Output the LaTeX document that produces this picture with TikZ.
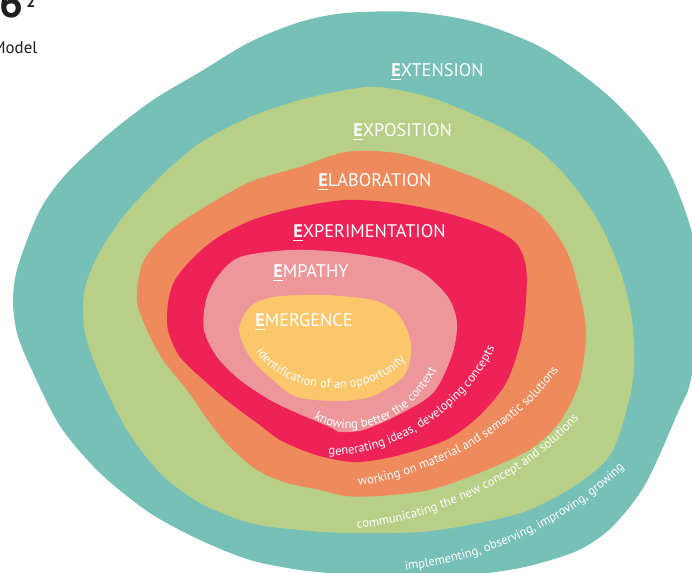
\documentclass[tikz,border=0pt]{standalone}
\usepackage{fontspec}
\setmainfont{PT Sans}
\usetikzlibrary{decorations.text}
\definecolor{cteal}{HTML}{76C0B7}
\definecolor{cgreen}{HTML}{B7CF87}
\definecolor{corange}{HTML}{EE8A5C}
\definecolor{cred}{HTML}{EE2257}
\definecolor{cpink}{HTML}{EE979A}
\definecolor{cyellow}{HTML}{FCC76B}
\definecolor{ctitle}{HTML}{1E1E1E}
\newcommand\lblfont{\fontsize{7.2}{8.5}\selectfont}
\newcommand\firstE[1]{\underline{\textbf{#1}}}
\tikzset{
  blob/.style={fill=#1, draw=none},
  head/.style={text=white, font=\fontsize{10.4}{12}\selectfont, inner sep=0pt, anchor=base west},
  lbl/.style={decorate, decoration={text along path, text align=center, text color=white, text={|\lblfont|#1}}}
}
\begin{document}
\begin{tikzpicture}[x=0.02cm,y=-0.02cm]
\useasboundingbox (0,0) rectangle (692,573);
% title
\node[font=\fontsize{24}{26}\selectfont\bfseries, text=ctitle, inner sep=0pt, anchor=base west] (six) at (-1,18) {6};
\node[font=\fontsize{9}{10}\selectfont\bfseries, text=ctitle, inner sep=0pt, anchor=base west] (two) at (26,8) {2};
\node[font=\fontsize{9.6}{11}\selectfont, text=ctitle, inner sep=0pt, anchor=base west] (model) at (-8,54) {Model};
% blobs
\fill[blob=cteal] plot[smooth cycle, tension=0.5] coordinates {
 (346,13) (413,12) (479,23) (546,50) (613,100) (663,160) (692,233) (702,310) (690,383)
 (679,410) (646,483) (613,526) (579,550) (529,566) (479,574) (420,577) (346,574)
 (300,570) (250,560) (200,540) (150,513) (100,473) (60,426) (30,366) (17,333)
 (13,300) (18,266) (40,210) (67,173) (110,133) (153,100) (200,72) (250,42) (300,22)};
\fill[blob=cgreen] plot[smooth cycle, tension=0.5] coordinates {
 (346,90) (379,87) (429,97) (479,117) (529,143) (563,173) (596,217) (619,267)
 (632,320) (633,380) (613,450) (579,483) (529,510) (479,523) (420,532) (346,533)
 (300,530) (250,523) (200,503) (160,473) (127,430) (100,376) (85,333) (84,293)
 (97,257) (123,217) (160,177) (200,143) (250,117) (300,100)};
\fill[blob=corange] plot[smooth cycle, tension=0.5] coordinates {
 (346,152) (396,153) (446,167) (496,187) (539,213) (566,250) (579,290) (586,333)
 (579,383) (559,423) (529,450) (479,473) (429,490) (379,496) (346,496) (320,490)
 (287,483) (257,470) (230,447) (210,423) (187,390) (163,360) (147,330) (137,300)
 (143,262) (167,233) (200,210) (250,182) (300,167)};
\fill[blob=cred] plot[smooth cycle, tension=0.5] coordinates {
 (346,200) (396,203) (446,213) (489,227) (516,243) (526,267) (526,300) (521,340)
 (506,383) (479,416) (446,440) (396,456) (360,462) (337,460) (310,453) (280,440)
 (257,423) (230,403) (207,383) (180,357) (168,330) (168,303) (175,280) (195,256)
 (220,236) (255,219) (300,207)};
\fill[blob=cpink] plot[smooth cycle, tension=0.5] coordinates {
 (240,257) (290,250) (340,252) (390,260) (423,273) (448,297) (457,323) (452,355)
 (433,393) (396,416) (363,430) (340,432) (330,427) (297,413) (270,400) (240,380)
 (217,357) (204,330) (206,300) (218,276)};
\fill[blob=cyellow] plot[smooth cycle, tension=0.5] coordinates {
 (250,307) (273,297) (323,295) (373,300) (397,313) (409,335) (411,355) (403,377)
 (373,396) (340,401) (297,397) (273,380) (250,357) (239,330)};
% headings
\node[head] (extension) at (391,77) {\firstE{E}XTENSION};
\node[head] (exposition) at (353,137) {\firstE{E}XPOSITION};
\node[head] (elaboration) at (318,187) {\firstE{E}LABORATION};
\node[head] (experimentation) at (293,238) {\firstE{E}XPERIMENTATION};
\node[head] (empathy) at (273,278) {\firstE{E}MPATHY};
\node[head] (emergence) at (255,327) {\firstE{E}MERGENCE};
% curved label paths
\coordinate (a1) at (248,333); \coordinate (b1) at (416,342);
\coordinate (a2) at (296,400); \coordinate (b2) at (446,346);
\coordinate (a3) at (310,452); \coordinate (b3) at (502,331);
\coordinate (a4) at (333,488); \coordinate (b4) at (572,348);
\coordinate (a5) at (333,530); \coordinate (b5) at (594,400);
\coordinate (a6) at (376,572); \coordinate (b6) at (644,446);
\path[lbl={identification of an opportunity}] (a1) .. controls (266,405) and (394,405) .. (b1);
\path[lbl={knowing better the context}] (a2) .. controls (328,452) and (420,433) .. (b2);
\path[lbl={generating ideas, developing concepts}] (a3) .. controls (370,468) and (470,420) .. (b3);
\path[lbl={working on material and semantic solutions}] (a4) .. controls (420,485) and (530,430) .. (b4);
\path[lbl={communicating the new concept and solutions}] (a5) .. controls (430,528) and (540,475) .. (b5);
\path[lbl={implementing, observing, improving, growing}] (a6) .. controls (470,570) and (580,525) .. (b6);
\end{tikzpicture}
\end{document}
